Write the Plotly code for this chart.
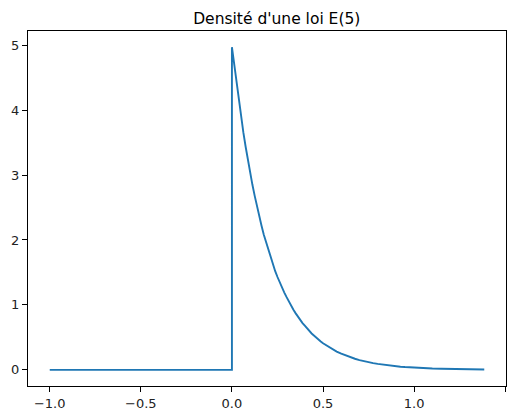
import plotly.graph_objects as go

# Values
x_vals = [-1.0, 0.0, 0.0, 0.0125, 0.025, 0.0375, 0.05, 0.0625, 0.075, 0.0875, 0.1,
          0.1125, 0.125, 0.1375, 0.15, 0.1625, 0.175, 0.1875, 0.2, 0.2125, 0.225,
          0.2375, 0.25, 0.2625, 0.275, 0.2875, 0.3, 0.3125, 0.325, 0.3375, 0.35,
          0.3625, 0.375, 0.3875, 0.4, 0.4125, 0.425, 0.4375, 0.45, 0.4625, 0.475,
          0.4875, 0.5, 0.525, 0.55, 0.575, 0.6, 0.625, 0.65, 0.675, 0.7, 0.725, 0.75,
          0.775, 0.8, 0.825, 0.85, 0.875, 0.9, 0.925, 0.95, 0.975, 1.0, 1.05, 1.1,
          1.15, 1.2, 1.25, 1.3, 1.35, 1.385]
y_vals = [0.0, 0.0, 4.97, 4.70, 4.41, 4.15, 3.89, 3.66, 3.44, 3.23, 3.03,
          2.85, 2.68, 2.51, 2.36, 2.22, 2.08, 1.96, 1.84, 1.73, 1.62,
          1.52, 1.43, 1.345, 1.26, 1.19, 1.12, 1.05, 0.985, 0.925, 0.87,
          0.815, 0.77, 0.72, 0.68, 0.635, 0.60, 0.56, 0.53, 0.495, 0.465,
          0.437, 0.41, 0.363, 0.32, 0.282, 0.25, 0.22, 0.194, 0.171, 0.151, 0.133, 0.118,
          0.104, 0.092, 0.081, 0.071, 0.063, 0.056, 0.049, 0.043, 0.038, 0.034, 0.026, 0.020,
          0.016, 0.012, 0.0097, 0.0075, 0.0058, 0.0049]

x_ticks = [-1.0, -0.5, 0.0, 0.5, 1.0, 1.5]
x_tick_labels = ["\u22121.0", "\u22120.5", "0.0", "0.5", "1.0", "1.5"]
y_ticks = [0, 1, 2, 3, 4, 5]
y_tick_labels = ["0", "1", "2", "3", "4", "5"]
title = "Densité d'une loi E(5)"

fig = go.Figure()
fig.add_trace(go.Scatter(x=x_vals, y=y_vals, mode="lines",
                         line=dict(color="#1f77b4", width=1.9), showlegend=False))

axis_common = dict(showgrid=False, zeroline=False, showline=True, linecolor="black",
                   linewidth=1, mirror=True, ticks="outside", ticklen=5, tickwidth=1,
                   tickcolor="black", automargin=False,
                   tickfont=dict(family="DejaVu Sans", size=13, color="#222222"))

fig.update_layout(
    width=513, height=412,
    margin=dict(l=28, r=7, t=31, b=26),
    paper_bgcolor="white", plot_bgcolor="white",
    title=dict(text=title, x=(28 + 506) / 2 / 513, xref="paper", xanchor="center",
               y=1 - 18.5 / 412, yanchor="middle", automargin=False,
               font=dict(family="DejaVu Sans", size=15.5, color="black")),
    xaxis=dict(range=[-1.1193, 1.5043], tickvals=x_ticks, ticktext=x_tick_labels, **axis_common),
    yaxis=dict(range=[-0.2485, 5.2185], tickvals=y_ticks, ticktext=y_tick_labels, **axis_common),
)

fig.write_html("out.html")
